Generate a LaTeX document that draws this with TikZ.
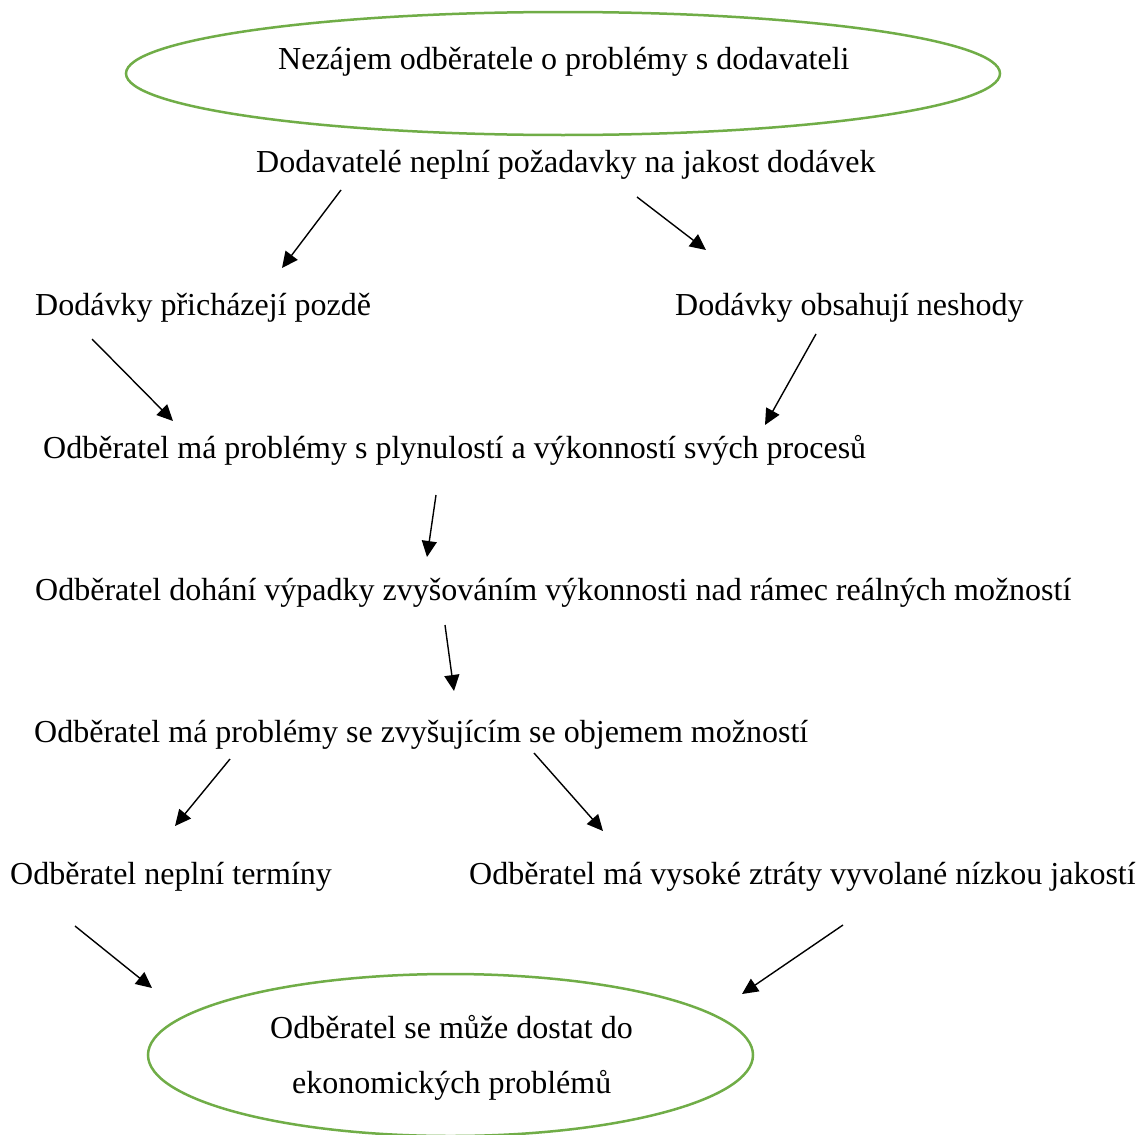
\documentclass[tikz,border=0pt]{standalone}
\usepackage{fontspec}
\setmainfont{Liberation Serif}
\usetikzlibrary{arrows.meta,shapes.geometric}
\definecolor{wgreen}{HTML}{70AD47}
\begin{document}
\begin{tikzpicture}[x=1pt,y=-1pt,
  txt/.style={anchor=base west,inner sep=0pt,font=\fontsize{32}{38}\selectfont},
  oval/.style={draw=wgreen,line width=2.5pt,ellipse,inner sep=0pt},
  arr/.style={line width=1.4pt,-{Triangle[length=16pt,width=15pt]}}]
\fill[white] (0,0) rectangle (1146,1135);
\useasboundingbox (0,0) rectangle (1146,1135);
% ovals
\node[oval,minimum width=874pt,minimum height=123pt] (top) at (563,73.5) {};
\node[oval,minimum width=605pt,minimum height=162pt] (bot) at (450.5,1055) {};
% texts
\node[txt] (t0) at (278,69) {Nezájem odběratele o problémy s dodavateli};
\node[txt] (t1) at (256,172) {Dodavatelé neplní požadavky na jakost dodávek};
\node[txt] (t2a) at (35,315) {Dodávky přicházejí pozdě};
\node[txt] (t2b) at (675,315) {Dodávky obsahují neshody};
\node[txt] (t3) at (43,458) {Odběratel má problémy s plynulostí a výkonností svých procesů};
\node[txt] (t4) at (35,600) {Odběratel dohání výpadky zvyšováním výkonnosti nad rámec reálných možností};
\node[txt] (t5) at (34,742) {Odběratel má problémy se zvyšujícím se objemem možností};
\node[txt] (t6a) at (10,884) {Odběratel neplní termíny};
\node[txt] (t6b) at (469,884) {Odběratel má vysoké ztráty vyvolané nízkou jakostí};
\node[txt] (t7a) at (270,1038) {Odběratel se může dostat do};
\node[txt] (t7b) at (292,1093) {ekonomických problémů};
% arrow end points
\coordinate (a1s) at (341,190); \coordinate (a1e) at (282,268);
\coordinate (a2s) at (637,197); \coordinate (a2e) at (706,250);
\coordinate (a3s) at (92,339);  \coordinate (a3e) at (173,421);
\coordinate (a4s) at (816,334); \coordinate (a4e) at (765,425);
\coordinate (a5s) at (436,495); \coordinate (a5e) at (427,557);
\coordinate (a6s) at (445,625); \coordinate (a6e) at (454,691);
\coordinate (a7s) at (230,759); \coordinate (a7e) at (175,826);
\coordinate (a8s) at (534,753); \coordinate (a8e) at (603,831);
\coordinate (a9s) at (75,926);  \coordinate (a9e) at (152,988);
\coordinate (a10s) at (843,925); \coordinate (a10e) at (742,994);
\foreach \i in {1,...,10} {\draw[arr] (a\i s) -- (a\i e);}
\end{tikzpicture}
\end{document}
